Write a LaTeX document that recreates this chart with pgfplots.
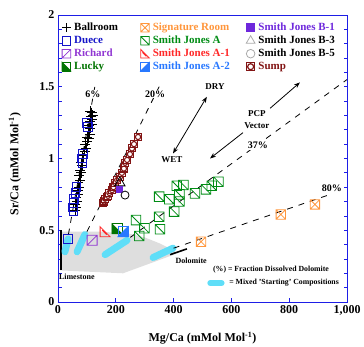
\documentclass[border=0pt]{standalone}
\usepackage{fontspec}
\setmainfont{Liberation Serif}
\usepackage{pgfplots}
\pgfplotsset{compat=1.18}
\usetikzlibrary{arrows.meta}

\definecolor{axisblue}{RGB}{30,30,230}
\definecolor{duece}{RGB}{20,20,200}
\definecolor{richard}{RGB}{145,55,210}
\definecolor{lucky}{RGB}{0,115,0}
\definecolor{sigroom}{RGB}{255,150,60}
\definecolor{sjA}{RGB}{0,140,20}
\definecolor{sjAone}{RGB}{255,40,40}
\definecolor{sjAtwo}{RGB}{40,120,255}
\definecolor{sjBone}{RGB}{110,40,220}
\definecolor{sump}{RGB}{130,20,20}
\definecolor{cyanblob}{RGB}{95,222,248}
\definecolor{grayarea}{RGB}{222,222,222}
\definecolor{leggray}{RGB}{170,170,170}

\pgfdeclareplotmark{sqx}{%
  \pgfpathrectangle{\pgfqpoint{-\pgfplotmarksize}{-\pgfplotmarksize}}{\pgfqpoint{2\pgfplotmarksize}{2\pgfplotmarksize}}%
  \pgfpathmoveto{\pgfqpoint{-\pgfplotmarksize}{-\pgfplotmarksize}}%
  \pgfpathlineto{\pgfqpoint{\pgfplotmarksize}{\pgfplotmarksize}}%
  \pgfpathmoveto{\pgfqpoint{-\pgfplotmarksize}{\pgfplotmarksize}}%
  \pgfpathlineto{\pgfqpoint{\pgfplotmarksize}{-\pgfplotmarksize}}%
  \pgfusepathqstroke}
\pgfdeclareplotmark{sqd}{%
  \pgfpathrectangle{\pgfqpoint{-\pgfplotmarksize}{-\pgfplotmarksize}}{\pgfqpoint{2\pgfplotmarksize}{2\pgfplotmarksize}}%
  \pgfpathmoveto{\pgfqpoint{-\pgfplotmarksize}{\pgfplotmarksize}}%
  \pgfpathlineto{\pgfqpoint{\pgfplotmarksize}{-\pgfplotmarksize}}%
  \pgfusepathqstroke}
\pgfdeclareplotmark{sqdb}{%
  \pgfpathrectangle{\pgfqpoint{-\pgfplotmarksize}{-\pgfplotmarksize}}{\pgfqpoint{2\pgfplotmarksize}{2\pgfplotmarksize}}%
  \pgfpathmoveto{\pgfqpoint{-\pgfplotmarksize}{-\pgfplotmarksize}}%
  \pgfpathlineto{\pgfqpoint{\pgfplotmarksize}{\pgfplotmarksize}}%
  \pgfusepathqstroke}
\pgfdeclareplotmark{halfLL}{%
  \pgfpathmoveto{\pgfqpoint{-\pgfplotmarksize}{-\pgfplotmarksize}}%
  \pgfpathlineto{\pgfqpoint{-\pgfplotmarksize}{\pgfplotmarksize}}%
  \pgfpathlineto{\pgfqpoint{\pgfplotmarksize}{-\pgfplotmarksize}}%
  \pgfpathclose\pgfusepathqfillstroke
  \pgfpathrectangle{\pgfqpoint{-\pgfplotmarksize}{-\pgfplotmarksize}}{\pgfqpoint{2\pgfplotmarksize}{2\pgfplotmarksize}}%
  \pgfusepathqstroke}
\pgfdeclareplotmark{halfLR}{%
  \pgfpathmoveto{\pgfqpoint{-\pgfplotmarksize}{-\pgfplotmarksize}}%
  \pgfpathlineto{\pgfqpoint{\pgfplotmarksize}{\pgfplotmarksize}}%
  \pgfpathlineto{\pgfqpoint{\pgfplotmarksize}{-\pgfplotmarksize}}%
  \pgfpathclose\pgfusepathqfillstroke
  \pgfpathrectangle{\pgfqpoint{-\pgfplotmarksize}{-\pgfplotmarksize}}{\pgfqpoint{2\pgfplotmarksize}{2\pgfplotmarksize}}%
  \pgfusepathqstroke}
\pgfdeclareplotmark{triLL}{%
  \pgfpathmoveto{\pgfqpoint{-\pgfplotmarksize}{\pgfplotmarksize}}%
  \pgfpathlineto{\pgfqpoint{-\pgfplotmarksize}{-\pgfplotmarksize}}%
  \pgfpathlineto{\pgfqpoint{\pgfplotmarksize}{-\pgfplotmarksize}}%
  \pgfpathclose
  \pgfpathmoveto{\pgfqpoint{-0.6\pgfplotmarksize}{0.3\pgfplotmarksize}}%
  \pgfpathlineto{\pgfqpoint{0.3\pgfplotmarksize}{-0.6\pgfplotmarksize}}%
  \pgfusepathqstroke}
\pgfdeclareplotmark{sumpmark}{%
  \pgfpathrectangle{\pgfqpoint{-\pgfplotmarksize}{-\pgfplotmarksize}}{\pgfqpoint{2\pgfplotmarksize}{2\pgfplotmarksize}}%
  \pgfusepathqfillstroke
  \pgfpathcircle{\pgfpointorigin}{0.75\pgfplotmarksize}%
  \pgfusepathqstroke}

\pgfplotsset{lgimg/.style={legend image code/.code={\draw[##1] plot coordinates {(0pt,0pt)};}}}

\begin{document}
\begin{tikzpicture}
\begin{axis}[
  name=ax,
  scale only axis, width=289pt, height=287pt,
  xmin=0, xmax=1000, ymin=0, ymax=2,
  axis line style={axisblue, line width=0.9pt},
  xtick={0,200,...,1000}, ytick={0,0.5,...,2},
  minor y tick num=4,
  tick align=inside, xtick pos=left,
  tick style={axisblue, line width=0.7pt},
  major tick length=3.5pt, minor tick length=3.5pt,
  /pgf/number format/assume math mode=true,
  x tick label style={/pgf/number format/1000 sep={,}},
  ticklabel style={font=\fontsize{12}{14}\selectfont\bfseries},
  label style={font=\fontsize{12}{14}\selectfont\bfseries},
  xlabel={Mg/Ca (mMol Mol\textsuperscript{-1})},
  ylabel={Sr/Ca (mMol Mol\textsuperscript{-1})},
  xlabel style={at={(axis description cs:0.5,-0.125)}, anchor=center},
  ylabel style={at={(axis description cs:-0.149,0.48)}, anchor=center},
  lgimg,
  legend columns=3,
  legend cell align=left,
  legend style={at={(axis cs:14.2,1.955)}, anchor=north west, draw=none, fill=none,
    inner sep=0pt, outer sep=0pt, column sep=0pt, row sep=0.5pt,
    nodes={font=\fontsize{11}{12}\selectfont\bfseries, inner sep=0pt, inner xsep=3.5pt,
      inner ysep=1pt, text height=8pt, text depth=2.5pt}},
]
% legend images (row-wise order)
\addlegendimage{mark=+, mark size=4.3pt, black, line width=0.8pt}
\addlegendentry{\makebox[63pt][l]{Ballroom}}
\addlegendimage{mark=sqx, mark size=4.3pt, sigroom, line width=0.8pt}
\addlegendentry{\makebox[90pt][l]{\textcolor{sigroom}{Signature Room}}}
\addlegendimage{mark=square*, mark size=4pt, sjBone, line width=0.8pt}
\addlegendentry{\textcolor{sjBone}{Smith Jones B-1}}
\addlegendimage{mark=square, mark size=4.3pt, duece, line width=0.8pt}
\addlegendentry{\makebox[63pt][l]{\textcolor{duece}{Duece}}}
\addlegendimage{mark=sqd, mark size=4.3pt, sjA, line width=0.8pt}
\addlegendentry{\makebox[90pt][l]{\textcolor{sjA}{Smith Jones A}}}
\addlegendimage{mark=triangle, mark size=5pt, leggray, line width=0.8pt}
\addlegendentry{Smith Jones B-3}
\addlegendimage{mark=sqdb, mark size=4.3pt, richard, line width=0.8pt}
\addlegendentry{\makebox[63pt][l]{\textcolor{richard}{Richard}}}
\addlegendimage{mark=triLL, mark size=4.3pt, sjAone, line width=0.8pt}
\addlegendentry{\makebox[90pt][l]{\textcolor{sjAone}{Smith Jones A-1}}}
\addlegendimage{mark=o, mark size=4.3pt, leggray, line width=0.8pt}
\addlegendentry{Smith Jones B-5}
\addlegendimage{mark=halfLL, mark size=4.3pt, lucky, fill=lucky, line width=0.8pt}
\addlegendentry{\makebox[63pt][l]{\textcolor{lucky}{Lucky}}}
\addlegendimage{mark=halfLR, mark size=4.3pt, sjAtwo, fill=sjAtwo, line width=0.8pt}
\addlegendentry{\makebox[90pt][l]{\textcolor{sjAtwo}{Smith Jones A-2}}}
\addlegendimage{mark=sumpmark, mark size=4pt, sump, fill=white, line width=1.2pt}
\addlegendentry{\textcolor{sump}{Sump}}

% gray field
\addplot[fill=grayarea, draw=none, forget plot] coordinates {
 (10,0.49) (150,0.49) (250,0.475) (300,0.45) (350,0.41) (390,0.37) (415,0.34) (225,0.20) (10,0.22)};
% end-members
\addplot[black, line width=1.3pt, forget plot] coordinates {(10,0.22) (10,0.50)};
\addplot[black, line width=1.6pt, forget plot] coordinates {(388,0.33) (446,0.37)};
% mixed starting compositions
\addplot[cyanblob, line width=7pt, line cap=round, forget plot] coordinates {(24,0.35) (35,0.44)};
\addplot[cyanblob, line width=7pt, line cap=round, forget plot] coordinates {(66,0.35) (93,0.47)};
\addplot[cyanblob, line width=7pt, line cap=round, forget plot] coordinates {(163,0.33) (239,0.43)};
\addplot[cyanblob, line width=7pt, line cap=round, forget plot] coordinates {(329,0.31) (398,0.375)};
\addplot[cyanblob, line width=6pt, line cap=round, forget plot] coordinates {(527,0.132) (566,0.132)};
% dissolution lines
\addplot[black, line width=0.8pt, dash pattern=on 6pt off 6pt, forget plot] coordinates {(36,0.47) (130,1.53)};
\addplot[black, line width=0.8pt, dash pattern=on 6pt off 6pt, forget plot] coordinates {(100,0.49) (355,1.52)};
\addplot[black, line width=0.8pt, dash pattern=on 6pt off 6pt, forget plot] coordinates {(250,0.45) (1000,1.55)};
\addplot[black, line width=0.8pt, dash pattern=on 6pt off 6pt, forget plot] coordinates {(400,0.375) (945,0.752)};
% arrows
\addplot[black, line width=0.8pt, {Stealth[length=6pt,width=4.5pt]}-{Stealth[length=6pt,width=4.5pt]}, forget plot] coordinates {(398,1.035) (515,1.43)};
\addplot[black, line width=0.8pt, -{Stealth[length=6pt,width=4.5pt]}, forget plot] coordinates {(640,1.18) (526,1.0)};
\addplot[black, line width=0.8pt, -{Stealth[length=6pt,width=4.5pt]}, forget plot] coordinates {(734,1.35) (837,1.53)};

% data
\addplot[only marks, mark=+, mark size=5pt, black, mark options={line width=0.8pt}, forget plot] coordinates {
 (60,0.64) (64,0.66) (60,0.68) (67,0.70) (64,0.73) (70,0.75) (68,0.78) (73,0.80) (70,0.83)
 (77,0.85) (74,0.88) (80,0.90) (77,0.92) (83,0.95) (80,0.97) (88,1.00) (85,1.02) (92,1.05)
 (97,1.07) (95,1.10) (102,1.12) (106,1.14) (100,1.15) (110,1.17) (105,1.19) (112,1.21)
 (108,1.23) (116,1.24) (112,1.26) (118,1.27) (114,1.29) (120,1.30) (116,1.32) (112,1.33)};
\addplot[only marks, mark=square, mark size=4.3pt, duece, mark options={line width=0.8pt}, forget plot] coordinates {
 (104,1.22) (101,1.25) (86,1.03) (82,1.00) (84,0.97) (64,0.80) (60,0.76) (56,0.72) (53,0.69) (51,0.66) (53,0.63) (35,0.44)};
\addplot[only marks, mark=sqdb, mark size=5pt, richard, mark options={line width=0.8pt}, forget plot] coordinates {(118,0.43)};
\addplot[only marks, mark=triLL, mark size=5pt, sjAone, mark options={line width=0.8pt}, forget plot] coordinates {(163,0.49)};
\addplot[only marks, mark=halfLL, mark size=5pt, lucky, mark options={fill=lucky, line width=0.8pt}, forget plot] coordinates {(204,0.51)};
\addplot[only marks, mark=halfLR, mark size=5pt, sjAtwo, mark options={fill=sjAtwo, line width=0.8pt}, forget plot] coordinates {(225,0.49)};
\addplot[only marks, mark=sumpmark, mark size=3.5pt, sump, mark options={fill=white, line width=1.1pt}, forget plot] coordinates {
 (156,0.69) (160,0.70) (163,0.72) (168,0.73) (173,0.74) (178,0.76) (187,0.78) (192,0.80) (197,0.83)
 (205,0.85) (214,0.87) (221,0.90) (228,0.93) (232,0.97) (239,0.99) (249,1.03) (256,1.07) (263,1.10) (277,1.15)};
\addplot[only marks, mark=triangle, mark size=6pt, black, mark options={line width=0.8pt}, forget plot] coordinates {(214,0.83)};
\addplot[only marks, mark=square*, mark size=2.8pt, sjBone, forget plot] coordinates {(211,0.787)};
\addplot[only marks, mark=*, mark size=4pt, black, mark options={fill=white, line width=0.8pt}, forget plot] coordinates {(232,0.745)};
\addplot[only marks, mark=sqd, mark size=4.8pt, sjA, mark options={line width=0.8pt}, forget plot] coordinates {
 (270,0.571) (299,0.514) (281,0.46) (350,0.594) (353,0.507) (402,0.63) (350,0.734) (385,0.716)
 (420,0.75) (420,0.70) (411,0.81) (434,0.815) (474,0.757) (512,0.785) (532,0.81) (555,0.838)};
\addplot[only marks, mark=sqx, mark size=4.7pt, sigroom, mark options={line width=0.8pt}, forget plot] coordinates {
 (495,0.42) (771,0.61) (889,0.68)};

% labels
\node[font=\fontsize{10}{12}\selectfont\bfseries, fill=white, inner sep=1pt] at (axis cs:121,1.45) {6\%};
\node[font=\fontsize{10}{12}\selectfont\bfseries, fill=white, inner sep=1pt] at (axis cs:336,1.45) {20\%};
\node[font=\fontsize{10}{12}\selectfont\bfseries, fill=white, inner sep=1pt] at (axis cs:692,1.09) {37\%};
\node[font=\fontsize{10}{12}\selectfont\bfseries, fill=white, inner sep=1pt] at (axis cs:948,0.79) {80\%};
\node[font=\fontsize{9}{11}\selectfont\bfseries] at (axis cs:543,1.50) {DRY};
\node[font=\fontsize{9}{11}\selectfont\bfseries] at (axis cs:394,0.99) {WET};
\node[font=\fontsize{9}{11}\selectfont\bfseries] at (axis cs:688,1.31) {PCP};
\node[font=\fontsize{9}{11}\selectfont\bfseries] at (axis cs:688,1.23) {Vector};
\node[font=\fontsize{8}{10}\selectfont\bfseries] at (axis cs:65,0.176) {Limestone};
\node[font=\fontsize{8}{10}\selectfont\bfseries] at (axis cs:461,0.288) {Dolomite};
\node[font=\fontsize{7.8}{9}\selectfont\bfseries, anchor=west, inner sep=0pt] at (axis cs:536,0.223) {(\%) = Fraction Dissolved Dolomite};
\node[font=\fontsize{7.8}{9}\selectfont\bfseries, anchor=west, inner sep=0pt] at (axis cs:592,0.132) {= Mixed 'Starting' Compositions};
\end{axis}
\pgfresetboundingbox
\path[use as bounding box] ([shift={(-58pt,-45pt)}]ax.south west) rectangle ([shift={(306pt,302pt)}]ax.south west);
\end{tikzpicture}
\end{document}
